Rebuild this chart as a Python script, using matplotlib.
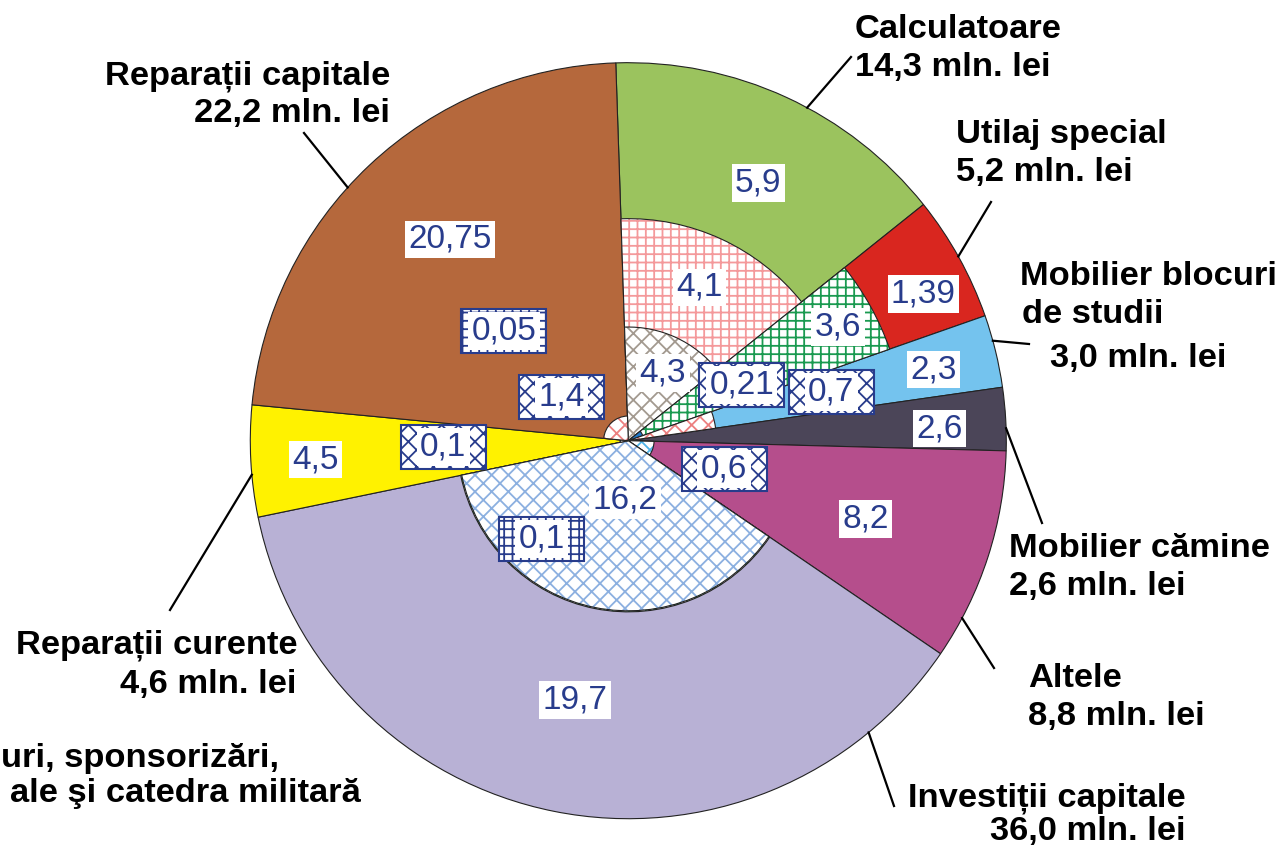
import matplotlib
matplotlib.use('Agg')

import numpy as np
import matplotlib.pyplot as plt
from matplotlib.patches import Wedge, Rectangle

# ==========================================
# Date (mln. lei), in ordinea acelor de ceasornic de sus
# ==========================================
categories = ['Calculatoare', 'Utilaj special', 'Mobilier blocuri\nde studii',
              'Mobilier cămine', 'Altele', 'Investiții capitale',
              'Reparații curente', 'Reparații capitale']
totals = [14.3, 5.2, 3.0, 2.6, 8.8, 36.0, 4.6, 22.2]
main_part = [5.9, 1.39, 2.3, 2.6, 8.2, 19.7, 4.5, 20.75]
# sub-parti desenate spre centru (de la centru spre exterior)
inner_parts = [[4.3, 4.1], [0.21, 3.6], [0.7], [], [0.6], [16.2, 0.1], [0.1], [0.05, 1.4]]

note_lines = ['uri, sponsorizări,', 'ale şi catedra militară']

# ==========================================
# Stiluri
# ==========================================
main_colors = ['#9bc35e', '#d9261f', '#74c3ee', '#4b4558',
               '#b54e8c', '#b8b1d5', '#fff200', '#b5683c']
# (fata, culoare hasura, hasura)
inner_styles = [
    [('white', '#a39a90', 'xx'), ('white', '#f4999b', '++')],
    [('#1f78c8', None, None), ('white', '#1a9a50', '++')],
    [('white', '#ec7f7f', 'xx')],
    [],
    [('white', '#4fb3e8', 'xx')],
    [('white', '#8cb0e0', 'xx'), ('white', '#1a9a50', '++')],
    [('white', '#8cb0e0', 'xx')],
    [('white', '#1a9a50', '++'), ('white', '#ec7f7f', 'xx')],
]
# pozitia etichetelor numerice: (fractiune din unghiul feliei, raza)
label_layout = [
    [(0.546, 0.201), (0.503, 0.447), (0.539, 0.763)],
    [(0.65, 0.334), (0.528, 0.631), (0.631, 0.872)],
    [(0.512, 0.552), (0.556, 0.83)],
    [(0.612, 0.825)],
    [(0.455, 0.264), (0.511, 0.662)],
    [(0.44, 0.157), (0.725, 0.346), (0.502, 0.70)],
    [(0.566, 0.49), (0.48, 0.828)],
    [(0.436, 0.439), (0.337, 0.21), (0.521, 0.711)],
]
box_hatch = [
    [None, None, None],
    ['xx', None, None],
    ['xx', None],
    [None],
    ['xx', None],
    [None, '++', None],
    ['xx', None],
    ['++', 'xx', None],
]
# linii de legatura: pozitie pe margine (fractiune) si capat (pixeli)
rim_t = [0.566, 0.49, 0.355, 0.646, 0.807, 0.121, 0.38, 0.443]
leader_end = [(851, 57), (991, 202), (1029, 344), (1042, 523),
              (994, 668), (894, 806), (170, 610), (304, 133)]
# textele categoriilor: (x, linia de baza) pentru fiecare rand, in pixeli
cat_text_pos = [
    [(855, 38), (855, 76)],
    [(956, 143), (956, 181)],
    [(1020, 285), (1022, 323), (1050, 367)],
    [(1009, 557), (1009, 595)],
    [(1028, 687), (1028, 725)],
    [(1186, 806), (1186, 840)],
    [(297, 653), (297, 693)],
    [(390, 85), (390, 122)],
]
cat_ha = ['left', 'left', 'left', 'left', 'left', 'right', 'right', 'right']
note_pos = [(1, 767), (10, 802)]

NAVY = '#283c8c'
EDGE = '#222222'

plt.rcParams['font.family'] = ['Liberation Sans', 'DejaVu Sans']
plt.rcParams['hatch.linewidth'] = 1.3

# ==========================================
# Figura: 1281x849 px, centrul pie-ului la (628, 441), raza 378 px
# ==========================================
W, H = 1281, 849
CX, CY, RPX = 628.3, 440.7, 378.0
fig = plt.figure(figsize=(W / 100, H / 100), dpi=100)
ax = fig.add_axes([0, 0, 1, 1])
ax.set_xlim(-CX / RPX, (W - CX) / RPX)
ax.set_ylim(-(H - CY) / RPX, CY / RPX)
ax.axis('off')


def px(x, y):
    return (x - CX) / RPX, (CY - y) / RPX


def fmt(v):
    return f"{v:g}".replace('.', ',')


start_angle = 91.9
grand = sum(totals)
edges = []
a = start_angle
for v in totals:
    span = v / grand * 360
    edges.append((a - span, a))
    a -= span

for k in range(len(totals)):
    lo, hi = edges[k]
    ax.add_patch(Wedge((0, 0), 1.0, lo, hi, facecolor=main_colors[k],
                       edgecolor=EDGE, lw=0.8, zorder=1))
    cum = np.cumsum(inner_parts[k]) if inner_parts[k] else []
    # exteriorul mai intai, interiorul deasupra
    for j in reversed(range(len(inner_parts[k]))):
        r = cum[j] / totals[k]
        fc, hc, hatch = inner_styles[k][j]
        if hatch:
            ax.add_patch(Wedge((0, 0), r, lo, hi, facecolor=fc, edgecolor=hc,
                               hatch=hatch, lw=0, zorder=2))
            ax.add_patch(Wedge((0, 0), r, lo, hi, fill=False,
                               edgecolor=EDGE, lw=0.8, zorder=2))
        else:
            ax.add_patch(Wedge((0, 0), r, lo, hi, facecolor=fc,
                               edgecolor=EDGE, lw=0.8, zorder=2))

# etichete numerice
bw, bh = 85 / RPX, 44 / RPX
for k in range(len(totals)):
    lo, hi = edges[k]
    parts = inner_parts[k] + [main_part[k]]
    for j, v in enumerate(parts):
        t, r = label_layout[k][j]
        ang = np.deg2rad(hi - t * (hi - lo))
        x, y = r * np.cos(ang), r * np.sin(ang)
        if box_hatch[k][j]:
            ax.add_patch(Rectangle((x - bw / 2, y - bh / 2), bw, bh,
                                   facecolor='white', edgecolor=NAVY,
                                   hatch=box_hatch[k][j], lw=1.5, zorder=4))
        ax.text(x, y, fmt(v), ha='center', va='center', fontsize=24,
                color=NAVY, zorder=5,
                bbox=dict(boxstyle='square,pad=0.1', fc='white', ec='none'))

# linii de legatura si texte categorii
for k in range(len(totals)):
    lo, hi = edges[k]
    ang = np.deg2rad(hi - rim_t[k] * (hi - lo))
    x0, y0 = np.cos(ang), np.sin(ang)
    x1, y1 = px(*leader_end[k])
    ax.plot([x0, x1], [y0, y1], color='black', lw=1.6, zorder=3)

    lines = categories[k].split('\n') + [f"{totals[k]:.1f}".replace('.', ',') + ' mln. lei']
    for line, (lx, ly) in zip(lines, cat_text_pos[k]):
        tx, ty = px(lx, ly)
        ax.text(tx, ty, line, ha=cat_ha[k], va='baseline', fontsize=24.8,
                fontweight='bold', color='black', zorder=6)

for line, (lx, ly) in zip(note_lines, note_pos):
    tx, ty = px(lx, ly)
    ax.text(tx, ty, line, ha='left', va='baseline', fontsize=24.8,
            fontweight='bold', color='black', zorder=6)

fig.savefig('out.png', dpi=100, facecolor='white')
